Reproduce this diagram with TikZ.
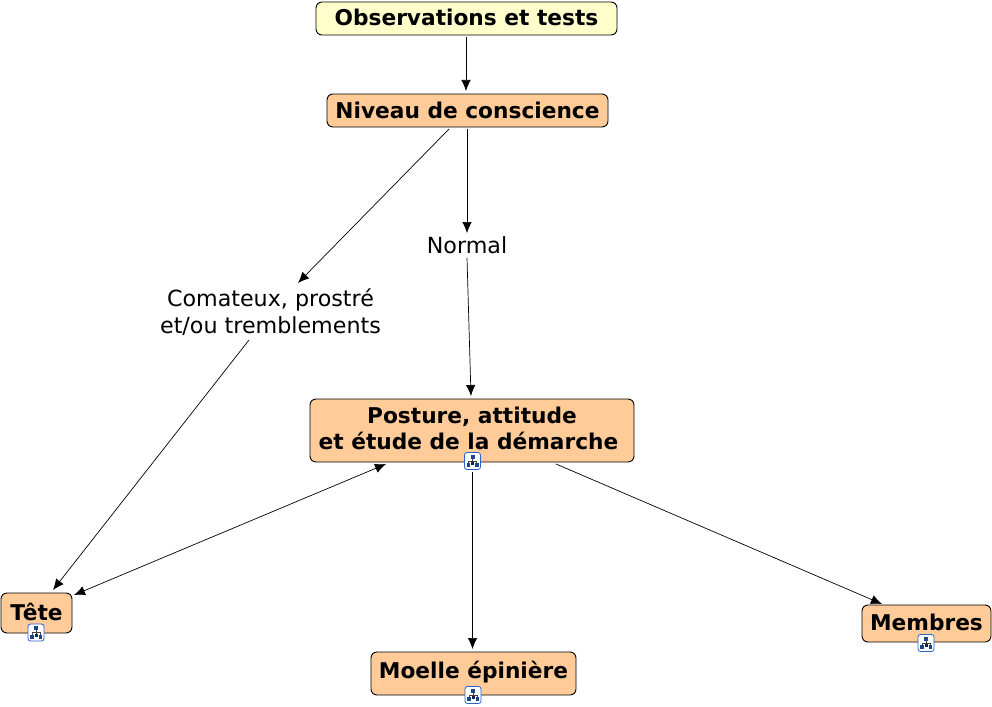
\documentclass[tikz,border=0pt]{standalone}
\usepackage{fontspec}
\setmainfont{DejaVu Sans}
\usetikzlibrary{arrows.meta}
\definecolor{peach}{HTML}{FFCC99}
\definecolor{paleyellow}{HTML}{FFFFCC}
\definecolor{iconblue}{HTML}{2A62C8}
\newcommand{\bl}[2]{\raisebox{-#1pt}[0pt][0pt]{#2}}
\tikzset{
  concept/.style={draw=black,line width=0.9pt,rounded corners=6pt,fill=peach,inner sep=0pt,align=center,font=\fontsize{21.7}{26}\selectfont\bfseries},
  root/.style={concept,fill=paleyellow},
  plain/.style={inner sep=0pt,align=center,font=\fontsize{22.2}{27}\selectfont},
  arr/.style={draw=black,line width=0.7pt,-{Latex[length=11pt,width=9.5pt]}},
  biarr/.style={draw=black,line width=0.7pt,{Latex[length=11pt,width=9.5pt]}-{Latex[length=11pt,width=9.5pt]}},
  mapicon/.pic={
    \draw[iconblue,fill=white,line width=0.8pt,rounded corners=2.5pt] (-8,-8.5) rectangle (8,8.5);
    \draw[black!75,line width=0.6pt] (0,-3) -- (0,2) (-4,3) -- (-4,0) -- (4,0) -- (4,3);
    \fill[iconblue!70!black] (-2,-6.5) rectangle (2,-2.5);
    \fill[iconblue!70!black] (-6,2) rectangle (-2.5,6);
    \fill[black!60!iconblue] (-1.5,1) rectangle (1.5,4.2);
    \fill[iconblue!70!black] (2.5,2) rectangle (6,6);
  }
}
\begin{document}
\begin{tikzpicture}[x=1pt,y=-1pt]
\useasboundingbox (0,0) rectangle (992,706);
\node[root,minimum width=301pt,minimum height=33pt] (obs) at (466.5,18.5) {\bl{7.5}{Observations et tests}};
\node[concept,minimum width=281pt,minimum height=33pt] (niveau) at (467.5,110.5) {\bl{7.5}{Niveau de conscience}};
\node[plain,minimum width=80pt,minimum height=24pt] (normal) at (467,245) {\bl{8}{Normal}};
\node[plain,minimum width=222pt,minimum height=54pt] (coma) at (270.5,312) {\bl{7.5}{Comateux, prostré}\\\bl{7.5}{et/ou tremblements}};
\node[concept,minimum width=324pt,minimum height=63pt] (posture) at (472,430.5) {\bl{5.5}{Posture, attitude}\\\bl{5.5}{et étude de la démarche\rule{7pt}{0pt}}};
\node[concept,minimum width=71pt,minimum height=40pt] (tete) at (36.5,613) {\bl{7.5}{Tête}};
\node[concept,minimum width=205pt,minimum height=43pt] (moelle) at (473.5,673.5) {\bl{5}{Moelle épinière}};
\node[concept,minimum width=129pt,minimum height=37pt] (membres) at (926.5,623.5) {\bl{6.5}{Membres}};
\draw[arr] ([shift={(-0.5,18.5)}]obs.center) -- ([shift={(-1.5,-19.5)}]niveau.center);
\draw[arr] ([shift={(-0.5,18.5)}]niveau.center) -- ([shift={(0,-12)}]normal.center);
\draw[arr] ([shift={(-18.5,18.5)}]niveau.center) -- ([shift={(27.5,-29)}]coma.center);
\draw[arr] ([shift={(0,13)}]normal.center) -- ([shift={(-1,-34.5)}]posture.center);
\draw[arr] ([shift={(-21.5,28)}]coma.center) -- ([shift={(16.5,-23)}]tete.center);
\draw[biarr] ([shift={(-86,33.5)}]posture.center) -- ([shift={(37.5,-18)}]tete.center);
\draw[arr] ([shift={(0.5,41.5)}]posture.center) -- ([shift={(-1,-24.5)}]moelle.center);
\draw[arr] ([shift={(84,33.5)}]posture.center) -- ([shift={(-44.5,-19.5)}]membres.center);
\pic at (472.5,461) {mapicon};
\pic at (36,632.5) {mapicon};
\pic at (473,695) {mapicon};
\pic at (926,643) {mapicon};
\end{tikzpicture}
\end{document}
